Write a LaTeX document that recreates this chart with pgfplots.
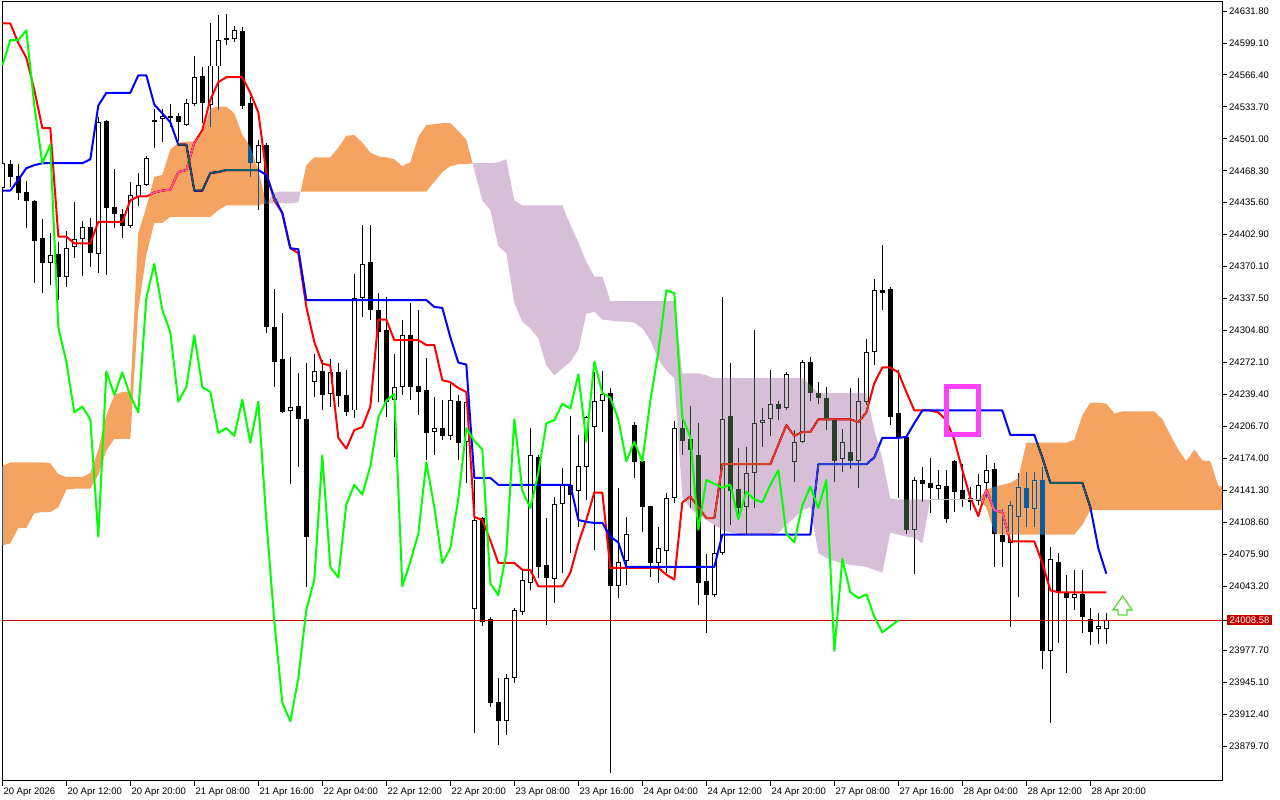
\documentclass[border=0pt]{standalone}
\usepackage{fontspec}
\setmainfont{Liberation Sans}
\usepackage{pgfplots}
\pgfplotsset{compat=1.18}
\definecolor{cloudOinv}{RGB}{11,91,159}
\definecolor{cloudPinv}{RGB}{39,64,39}
\definecolor{bidred}{RGB}{200,0,0}
\definecolor{boxmag}{RGB}{255,64,255}
\definecolor{chik}{RGB}{0,255,0}
\definecolor{arrowgreen}{RGB}{90,220,60}
\begin{document}
\begin{tikzpicture}[x=1bp,y=1bp]
\fill[white] (-2,-19) rectangle (1278,781);
\useasboundingbox (-2,-19) rectangle (1278,781);
\begin{axis}[
  at={(0,0)}, anchor=south west,
  scale only axis, width=1220bp, height=779bp,
  xmin=-0.04, xmax=152.46, ymin=23843.9, ymax=24641.0,
  axis line style={black, line width=1bp},
  axis background/.style={fill=white},
  unbounded coords=jump,
  tick align=outside,
  major tick length=5bp,
  tick style={black, line width=0.8bp},
  xtick pos=left, ytick pos=right, yticklabel pos=right,
  xtick={0,8,...,136},
  xticklabels={20 Apr 2026,20 Apr 12:00,20 Apr 20:00,21 Apr 08:00,21 Apr 16:00,22 Apr 04:00,22 Apr 12:00,22 Apr 20:00,23 Apr 08:00,23 Apr 16:00,24 Apr 04:00,24 Apr 12:00,24 Apr 20:00,27 Apr 08:00,27 Apr 16:00,28 Apr 04:00,28 Apr 12:00,28 Apr 20:00},
  ytick={24631.8,24599.1,24566.4,24533.7,24501.0,24468.3,24435.6,24402.9,24370.2,24337.5,24304.8,24272.1,24239.4,24206.7,24174.0,24141.3,24108.6,24075.9,24043.2,23977.8,23945.1,23912.4,23879.7},
  yticklabels={24631.80,24599.10,24566.40,24533.70,24501.00,24468.30,24435.60,24402.90,24370.10,24337.50,24304.80,24272.10,24239.40,24206.70,24174.00,24141.30,24108.60,24075.90,24043.20,23977.70,23945.10,23912.40,23879.70},
  ticklabel style={font=\fontsize{9.5bp}{11bp}\selectfont, inner sep=0pt, text=black},
  xticklabel style={anchor=north west, xshift=1bp, yshift=-2bp},
  yticklabel style={anchor=west, xshift=2bp},
  extra y ticks={24008.58}, extra y tick labels={24008.58},
  extra y tick style={yticklabel style={fill=bidred, text=white, inner xsep=2.5bp, inner ysep=1.5bp, xshift=-2bp}},
]
% wicks
\addplot[black, line width=1bp] coordinates {(0,24479)(0,24443)(0,nan) (1,24479)(1,24452)(1,nan) (2,24475)(2,24438)(2,nan) (3,24458)(3,24410)(3,nan) (4,24438)(4,24353)(4,nan) (5,24419)(5,24343)(5,nan) (6,24405)(6,24351)(6,nan) (7,24395)(7,24336)(7,nan) (8,24407)(8,24349)(8,nan) (9,24436)(9,24379)(9,nan) (10,24417)(10,24361)(10,nan) (11,24420)(11,24370)(11,nan) (12,24523)(12,24364)(12,nan) (13,24520)(13,24362)(13,nan) (14,24470)(14,24410)(14,nan) (15,24429)(15,24399)(15,nan) (16,24457)(16,24410)(16,nan) (17,24466)(17,24432)(17,nan) (18,24483)(18,24453)(18,nan) (19,24532)(19,24492)(19,nan) (20,24532)(20,24498)(20,nan) (21,24537)(21,24513)(21,nan) (22,24527)(22,24499)(22,nan) (23,24542)(23,24514)(23,nan) (24,24586)(24,24535)(24,nan) (25,24574)(25,24517)(25,nan) (26,24620)(26,24513)(26,nan) (27,24628)(27,24530)(27,nan) (28,24629)(28,24597)(28,nan) (29,24616)(29,24600)(29,nan) (30,24615)(30,24532)(30,nan) (31,24544)(31,24462)(31,nan) (32,24500)(32,24428)(32,nan) (33,24497)(33,24302)(33,nan) (34,24347)(34,24247)(34,nan) (35,24323)(35,24220)(35,nan) (36,24278)(36,24148)(36,nan) (37,24261)(37,24165)(37,nan) (38,24272)(38,24042)(38,nan) (39,24281)(39,24237)(39,nan) (40,24275)(40,24223)(40,nan) (41,24276)(41,24227)(41,nan) (42,24272)(42,24227)(42,nan) (43,24264)(43,24217)(43,nan) (44,24363)(44,24215)(44,nan) (45,24413)(45,24319)(45,nan) (46,24413)(46,24316)(46,nan) (47,24343)(47,24232)(47,nan) (48,24339)(48,24216)(48,nan) (49,24281)(49,24175)(49,nan) (50,24316)(50,24239)(50,nan) (51,24333)(51,24234)(51,nan) (52,24326)(52,24218)(52,nan) (53,24277)(53,24172)(53,nan) (54,24237)(54,24177)(54,nan) (55,24234)(55,24193)(55,nan) (56,24252)(56,24193)(56,nan) (57,24239)(57,24172)(57,nan) (58,24234)(58,24149)(58,nan) (59,24152)(59,23893)(59,nan) (60,24114)(60,24002)(60,nan) (61,24012)(61,23920)(61,nan) (62,23949)(62,23881)(62,nan) (63,23953)(63,23891)(63,nan) (64,24021)(64,23944)(64,nan) (65,24061)(65,24014)(65,nan) (66,24205)(66,24039)(66,nan) (67,24177)(67,24052)(67,nan) (68,24113)(68,24004)(68,nan) (69,24134)(69,24026)(69,nan) (70,24164)(70,24057)(70,nan) (71,24217)(71,24077)(71,nan) (72,24198)(72,24104)(72,nan) (73,24217)(73,24131)(73,nan) (74,24262)(74,24080)(74,nan) (75,24263)(75,24201)(75,nan) (76,24246)(76,23852)(76,nan) (77,24144)(77,24031)(77,nan) (78,24114)(78,24044)(78,nan) (79,24211)(79,24154)(79,nan) (80,24171)(80,24099)(80,nan) (81,24125)(81,24053)(81,nan) (82,24104)(82,24046)(82,nan) (83,24139)(83,24057)(83,nan) (84,24212)(84,24128)(84,nan) (85,24215)(85,24177)(85,nan) (86,24228)(86,24123)(86,nan) (87,24210)(87,24024)(87,nan) (88,24076)(88,23995)(88,nan) (89,24106)(89,24032)(89,nan) (90,24339)(90,24075)(90,nan) (91,24272)(91,24106)(91,nan) (92,24185)(92,24111)(92,nan) (93,24186)(93,24097)(93,nan) (94,24305)(94,24123)(94,nan) (95,24226)(95,24186)(95,nan) (96,24264)(96,24197)(96,nan) (97,24233)(97,24213)(97,nan) (98,24262)(98,24223)(98,nan) (99,24203)(99,24150)(99,nan) (100,24275)(100,24190)(100,nan) (101,24278)(101,24233)(101,nan) (102,24252)(102,24230)(102,nan) (103,24247)(103,24203)(103,nan) (104,24215)(104,24150)(104,nan) (105,24204)(105,24160)(105,nan) (106,24246)(106,24163)(106,nan) (107,24256)(107,24144)(107,nan) (108,24296)(108,24229)(108,nan) (109,24358)(109,24270)(109,nan) (110,24392)(110,24326)(110,nan) (111,24349)(111,24208)(111,nan) (112,24264)(112,24133)(112,nan) (113,24198)(113,24097)(113,nan) (114,24155)(114,24056)(114,nan) (115,24165)(115,24129)(115,nan) (116,24174)(116,24118)(116,nan) (117,24162)(117,24131)(117,nan) (118,24162)(118,24108)(118,nan) (119,24172)(119,24119)(119,nan) (120,24168)(120,24124)(120,nan) (121,24145)(121,24121)(121,nan) (122,24158)(122,24126)(122,nan) (123,24177)(123,24133)(123,nan) (124,24169)(124,24063)(124,nan) (125,24122)(125,24063)(125,nan) (126,24130)(126,24001)(126,nan) (127,24159)(127,24032)(127,nan) (128,24160)(128,24104)(128,nan) (129,24160)(129,24104)(129,nan) (130,24165)(130,23958)(130,nan) (131,24083)(131,23903)(131,nan) (132,24077)(132,23985)(132,nan) (133,24055)(133,23954)(133,nan) (134,24060)(134,24019)(134,nan) (135,24060)(135,23995)(135,nan) (136,24021)(136,23983)(136,nan) (137,24016)(137,23984)(137,nan) (138,24016)(138,23984)(138,nan)};
% bodies (open to close)
\addplot[black, line width=5bp] coordinates {(0,24451)(0,24476)(0,nan) (1,24475)(1,24462)(1,nan) (2,24463)(2,24446)(2,nan) (3,24447)(3,24437)(3,nan) (4,24437)(4,24396)(4,nan) (5,24399)(5,24374)(5,nan) (6,24374)(6,24382)(6,nan) (7,24383)(7,24360)(7,nan) (8,24360)(8,24389)(8,nan) (9,24390)(9,24398)(9,nan) (10,24398)(10,24411)(10,nan) (11,24411)(11,24384)(11,nan) (12,24383)(12,24518)(12,nan) (13,24519)(13,24430)(13,nan) (14,24431)(14,24424)(14,nan) (15,24424)(15,24412)(15,nan) (16,24412)(16,24443)(16,nan) (17,24441)(17,24454)(17,nan) (18,24454)(18,24481)(18,nan) (19,24520)(19,24518)(19,nan) (20,24521)(20,24524)(20,nan) (21,24524)(21,24522)(21,nan) (22,24524)(22,24518)(22,nan) (23,24515)(23,24538)(23,nan) (24,24537)(24,24564)(24,nan) (25,24565)(25,24538)(25,nan) (26,24536)(26,24576)(26,nan) (27,24575)(27,24602)(27,nan) (28,24604)(28,24602)(28,nan) (29,24603)(29,24612)(29,nan) (30,24611)(30,24535)(30,nan) (31,24538)(31,24476)(31,nan) (32,24476)(32,24495)(32,nan) (33,24495)(33,24308)(33,nan) (34,24308)(34,24273)(34,nan) (35,24276)(35,24221)(35,nan) (36,24222)(36,24227)(36,nan) (37,24228)(37,24214)(37,nan) (38,24214)(38,24094)(38,nan) (39,24252)(39,24263)(39,nan) (40,24263)(40,24239)(40,nan) (41,24240)(41,24262)(41,nan) (42,24262)(42,24238)(42,nan) (43,24239)(43,24221)(43,nan) (44,24223)(44,24338)(44,nan) (45,24338)(45,24373)(45,nan) (46,24375)(46,24326)(46,nan) (47,24326)(47,24303)(47,nan) (48,24305)(48,24232)(48,nan) (49,24234)(49,24247)(49,nan) (50,24247)(50,24300)(50,nan) (51,24300)(51,24247)(51,nan) (52,24248)(52,24242)(52,nan) (53,24244)(53,24200)(53,nan) (54,24201)(54,24205)(54,nan) (55,24205)(55,24197)(55,nan) (56,24197)(56,24234)(56,nan) (57,24233)(57,24190)(57,nan) (58,24191)(58,24232)(58,nan) (59,24020)(59,24111)(59,nan) (60,24113)(60,24007)(60,nan) (61,24010)(61,23924)(61,nan) (62,23925)(62,23905)(62,nan) (63,23905)(63,23949)(63,nan) (64,23949)(64,24019)(64,nan) (65,24017)(65,24050)(65,nan) (66,24047)(66,24177)(66,nan) (67,24175)(67,24063)(67,nan) (68,24065)(68,24052)(68,nan) (69,24051)(69,24127)(69,nan) (70,24127)(70,24147)(70,nan) (71,24147)(71,24137)(71,nan) (72,24141)(72,24166)(72,nan) (73,24165)(73,24216)(73,nan) (74,24206)(74,24233)(74,nan) (75,24233)(75,24240)(75,nan) (76,24241)(76,24043)(76,nan) (77,24043)(77,24068)(77,nan) (78,24069)(78,24097)(78,nan) (79,24208)(79,24170)(79,nan) (80,24171)(80,24124)(80,nan) (81,24125)(81,24067)(81,nan) (82,24067)(82,24082)(82,nan) (83,24079)(83,24133)(83,nan) (84,24133)(84,24205)(84,nan) (85,24205)(85,24192)(85,nan) (86,24194)(86,24183)(86,nan) (87,24177)(87,24046)(87,nan) (88,24049)(88,24034)(88,nan) (89,24034)(89,24077)(89,nan) (90,24077)(90,24214)(90,nan) (91,24217)(91,24141)(91,nan) (92,24143)(92,24123)(92,nan) (93,24124)(93,24159)(93,nan) (94,24159)(94,24210)(94,nan) (95,24210)(95,24213)(95,nan) (96,24214)(96,24230)(96,nan) (97,24230)(97,24225)(97,nan) (98,24226)(98,24260)(98,nan) (99,24170)(99,24191)(99,nan) (100,24191)(100,24273)(100,nan) (101,24273)(101,24241)(101,nan) (102,24241)(102,24236)(102,nan) (103,24236)(103,24214)(103,nan) (104,24214)(104,24171)(104,nan) (105,24173)(105,24191)(105,nan) (106,24181)(106,24171)(106,nan) (107,24171)(107,24233)(107,nan) (108,24232)(108,24283)(108,nan) (109,24283)(109,24346)(109,nan) (110,24346)(110,24343)(110,nan) (111,24347)(111,24216)(111,nan) (112,24220)(112,24196)(112,nan) (113,24196)(113,24101)(113,nan) (114,24101)(114,24152)(114,nan) (115,24152)(115,24148)(115,nan) (116,24149)(116,24144)(116,nan) (117,24143)(117,24147)(117,nan) (118,24146)(118,24112)(118,nan) (119,24171)(119,24140)(119,nan) (120,24142)(120,24132)(120,nan) (121,24133)(121,24129)(121,nan) (122,24130)(122,24147)(122,nan) (123,24149)(123,24162)(123,nan) (124,24163)(124,24097)(124,nan) (125,24096)(125,24088)(125,nan) (126,24087)(126,24126)(126,nan) (127,24114)(127,24145)(127,nan) (128,24144)(128,24123)(128,nan) (129,24122)(129,24152)(129,nan) (130,24152)(130,23977)(130,nan) (131,23977)(131,24071)(131,nan) (132,24068)(132,24037)(132,nan) (133,24036)(133,24031)(133,nan) (134,24031)(134,24035)(134,nan) (135,24035)(135,24012)(135,nan) (136,24010)(136,23996)(136,nan) (137,23999)(137,24002)(137,nan) (138,23999)(138,24008.58)(138,nan)};
% hollow interiors of rising candles
\addplot[white, line width=3bp] coordinates {(0,24452)(0,24475)(0,nan) (6,24375)(6,24381)(6,nan) (8,24361)(8,24388)(8,nan) (9,24391)(9,24397)(9,nan) (10,24399)(10,24410)(10,nan) (12,24384)(12,24517)(12,nan) (16,24413)(16,24442)(16,nan) (17,24442)(17,24453)(17,nan) (18,24455)(18,24480)(18,nan) (20,24522)(20,24523)(20,nan) (23,24516)(23,24537)(23,nan) (24,24538)(24,24563)(24,nan) (26,24537)(26,24575)(26,nan) (27,24576)(27,24601)(27,nan) (29,24604)(29,24611)(29,nan) (32,24477)(32,24494)(32,nan) (36,24223)(36,24226)(36,nan) (39,24253)(39,24262)(39,nan) (41,24241)(41,24261)(41,nan) (44,24224)(44,24337)(44,nan) (45,24339)(45,24372)(45,nan) (49,24235)(49,24246)(49,nan) (50,24248)(50,24299)(50,nan) (54,24202)(54,24204)(54,nan) (56,24198)(56,24233)(56,nan) (58,24192)(58,24231)(58,nan) (59,24021)(59,24110)(59,nan) (63,23906)(63,23948)(63,nan) (64,23950)(64,24018)(64,nan) (65,24018)(65,24049)(65,nan) (66,24048)(66,24176)(66,nan) (69,24052)(69,24126)(69,nan) (70,24128)(70,24146)(70,nan) (72,24142)(72,24165)(72,nan) (73,24166)(73,24215)(73,nan) (74,24207)(74,24232)(74,nan) (75,24234)(75,24239)(75,nan) (77,24044)(77,24067)(77,nan) (78,24070)(78,24096)(78,nan) (82,24068)(82,24081)(82,nan) (83,24080)(83,24132)(83,nan) (84,24134)(84,24204)(84,nan) (89,24035)(89,24076)(89,nan) (90,24078)(90,24213)(90,nan) (93,24125)(93,24158)(93,nan) (94,24160)(94,24209)(94,nan) (95,24211)(95,24212)(95,nan) (96,24215)(96,24229)(96,nan) (98,24227)(98,24259)(98,nan) (99,24171)(99,24190)(99,nan) (100,24192)(100,24272)(100,nan) (105,24174)(105,24190)(105,nan) (107,24172)(107,24232)(107,nan) (108,24233)(108,24282)(108,nan) (109,24284)(109,24345)(109,nan) (114,24102)(114,24151)(114,nan) (117,24144)(117,24146)(117,nan) (122,24131)(122,24146)(122,nan) (123,24150)(123,24161)(123,nan) (126,24088)(126,24125)(126,nan) (127,24115)(127,24144)(127,nan) (129,24123)(129,24151)(129,nan) (131,23978)(131,24070)(131,nan) (134,24032)(134,24034)(134,nan) (137,24000)(137,24001)(137,nan) (138,24000)(138,24007.58)(138,nan)};
% Tenkan-sen
\addplot[red, line width=2bp, line join=round] coordinates {(0,24619)(1,24619)(2,24599)(3,24584)(4,24551)(5,24512)(6,24512)(7,24401)(8,24401)(9,24394)(10,24394)(11,24394)(12,24416)(13,24416)(14,24416)(15,24416)(16,24438)(17,24442)(18,24442)(19,24446)(20,24448)(21,24449)(22,24467)(23,24469)(24,24497)(25,24510)(26,24541)(27,24559)(28,24564)(29,24564)(30,24564)(31,24548)(32,24528)(33,24466)(34,24438)(35,24425)(36,24389)(37,24384)(38,24329)(39,24293)(40,24271)(41,24269)(42,24195)(43,24184)(44,24203)(45,24206)(46,24227)(47,24316)(48,24316)(49,24295)(50,24295)(51,24295)(52,24295)(53,24290)(54,24290)(55,24254)(56,24252)(57,24246)(58,24242)(59,24114)(60,24111)(61,24090)(62,24067)(63,24067)(64,24067)(65,24060)(66,24060)(67,24043)(68,24043)(69,24043)(70,24043)(71,24057)(72,24087)(73,24111)(74,24139)(75,24139)(76,24062)(77,24062)(78,24062)(79,24062)(80,24062)(81,24062)(82,24062)(83,24055)(84,24050)(85,24129)(86,24135)(87,24124)(88,24113)(89,24113)(90,24168)(91,24168)(92,24168)(93,24168)(94,24168)(95,24168)(96,24168)(97,24188)(98,24208)(99,24197)(100,24201)(101,24201)(102,24214)(103,24214)(104,24214)(105,24214)(106,24214)(107,24211)(108,24221)(109,24251)(110,24267)(111,24267)(112,24262)(113,24242)(114,24223)(115,24223)(116,24223)(117,24221)(118,24213)(119,24193)(120,24162)(121,24134)(122,24115)(123,24142)(124,24121)(125,24119)(126,24089)(127,24089)(128,24089)(129,24089)(130,24067)(131,24039)(132,24037)(133,24037)(134,24037)(135,24037)(136,24037)(137,24037)(138,24037)};
% Kijun-sen
\addplot[blue, line width=2bp, line join=round] coordinates {(0,24448)(1,24448)(2,24459)(3,24471)(4,24474)(5,24476)(10,24476)(11,24480)(12,24535)(13,24548)(16,24548)(17,24566)(18,24566)(19,24536)(20,24527)(21,24518)(22,24495)(23,24495)(24,24448)(25,24448)(26,24466)(27,24467)(28,24469)(32,24469)(33,24464)(34,24441)(35,24425)(36,24389)(37,24388)(38,24336)(53,24336)(54,24329)(55,24328)(56,24298)(57,24272)(58,24270)(59,24154)(61,24154)(62,24147)(71,24147)(72,24111)(73,24109)(74,24108)(75,24108)(76,24094)(77,24088)(78,24063)(89,24063)(90,24096)(101,24096)(102,24168)(108,24168)(109,24175)(110,24195)(112,24195)(113,24196)(114,24210)(115,24223)(125,24223)(126,24198)(129,24198)(130,24175)(131,24149)(135,24149)(136,24124)(137,24082)(138,24056)};
% bid line
\addplot[bidred, line width=1bp] coordinates {(-1,24008.58)(160,24008.58)};
% Kumo (Senkou span A above B: sandy brown; B above A: thistle), drawn like MT5 (XOR-like)
\addplot[fill=cloudOinv, draw=none, blend mode=difference] coordinates {(-1,24166)(0,24166)(1,24170)(2,24170)(3,24170)(4,24170)(5,24170)(6,24169)(7,24158)(8,24155)(9,24155)(10,24155)(11,24159)(12,24183)(13,24218)(14,24239)(15,24242)(16,24242)(17,24405)(18,24431)(19,24462)(20,24464)(21,24490)(22,24497)(23,24498)(24,24498)(25,24507)(26,24532)(27,24534)(28,24534)(29,24527)(30,24505)(31,24493)(32,24469)(32.97,24435)(32,24433)(28,24433)(27,24428)(26,24421)(21,24421)(20,24415)(19,24415)(18,24382)(17,24326)(16,24194)(14,24194)(13,24182)(12,24157)(11,24143)(9,24143)(8,24142)(7,24124)(6,24119)(5,24119)(4,24118)(3,24103)(2,24103)(1,24087)(0,24085)(-1,24085)} -- cycle;
\addplot[fill=cloudPinv, draw=none, blend mode=difference] coordinates {(32.97,24435)(33,24435)(34,24446)(35,24447)(37,24447)(37.29,24447)(37,24436)(36,24435)(35,24435)(34,24436)(33,24434)} -- cycle;
\addplot[fill=cloudOinv, draw=none, blend mode=difference] coordinates {(37.29,24447)(38,24474)(39,24482)(40,24482)(41,24482)(42,24492)(43,24504)(44,24505)(45,24497)(46,24487)(47,24483)(48,24482)(49,24480)(50,24473)(51,24477)(52,24503)(53,24515)(54,24516)(55,24517)(56,24517)(57,24509)(58,24500)(58.78,24476)(58,24475)(57,24475)(56,24473)(55,24467)(54,24457)(53,24447)(38,24447)} -- cycle;
\addplot[fill=cloudPinv, draw=none, blend mode=difference] coordinates {(58.78,24476)(59,24476)(61,24476)(62,24477)(63,24480)(64,24438)(65,24433)(70,24433)(71,24413)(72,24395)(73,24375)(74,24360)(75,24360)(76,24335)(84,24335)(85,24261)(87,24261)(88,24259)(89,24256)(100,24256)(101,24249)(102,24241)(108,24241)(109,24203)(110,24174)(111,24133)(112,24132)(116,24132)(115,24087)(114,24093)(113,24094)(112,24096)(111,24098)(110,24057)(109,24060)(108,24063)(107,24064)(106,24065)(105,24067)(104,24069)(103,24072)(102,24077)(101,24124)(100,24121)(99,24113)(98,24106)(97,24098)(96,24096)(93,24096)(92,24097)(91,24098)(90,24101)(89,24106)(88,24111)(87,24116)(86,24123)(85,24134)(84,24256)(83,24264)(82,24275)(81,24295)(80,24307)(79,24313)(78,24314)(77,24314)(76,24315)(75,24316)(74,24324)(73,24322)(72,24285)(71,24273)(70,24266)(69,24259)(68,24269)(67,24297)(66,24307)(65,24314)(64,24333)(63,24384)(62,24391)(61,24428)(60,24438)(59,24469)} -- cycle;
\addplot[fill=cloudOinv, draw=none, blend mode=difference] coordinates {(122,24132)(123,24142)(124,24145)(125,24147)(126,24149)(127,24154)(128,24190)(133,24190)(134,24193)(135,24218)(136,24231)(137,24231)(138,24230)(139,24220)(140,24222)(144,24222)(145,24214)(146,24198)(147,24183)(148,24171)(149,24183)(150,24172)(151,24171)(152,24146)(153,24144)(153,24121)(136,24121)(135,24106)(134,24096)(125,24096)(124,24098)(123,24124)} -- cycle;
\addplot[color={rgb,255:red,200;green,200;blue,200}, line width=1bp] coordinates {(116,24132)(122,24132)};
% Chikou span
\addplot[chik, line width=2bp, line join=round] coordinates {(0,24576)(1,24602)(2,24602)(3,24612)(4,24535)(5,24476)(6,24495)(7,24308)(8,24273)(9,24221)(10,24227)(11,24214)(12,24094)(13,24263)(14,24239)(15,24262)(16,24238)(17,24221)(18,24338)(19,24373)(20,24326)(21,24303)(22,24232)(23,24247)(24,24300)(25,24247)(26,24242)(27,24200)(28,24205)(29,24197)(30,24234)(31,24190)(32,24232)(33,24111)(34,24007)(35,23924)(36,23905)(37,23949)(38,24019)(39,24050)(40,24177)(41,24063)(42,24052)(43,24127)(44,24147)(45,24137)(46,24166)(47,24216)(48,24233)(49,24240)(50,24043)(51,24068)(52,24097)(53,24170)(54,24124)(55,24067)(56,24082)(57,24133)(58,24205)(59,24192)(60,24183)(61,24046)(62,24034)(63,24077)(64,24214)(65,24141)(66,24123)(67,24159)(68,24210)(69,24213)(70,24230)(71,24225)(72,24260)(73,24191)(74,24273)(75,24241)(76,24236)(77,24214)(78,24171)(79,24191)(80,24171)(81,24233)(82,24283)(83,24346)(84,24343)(85,24216)(86,24196)(87,24101)(88,24152)(89,24148)(90,24144)(91,24147)(92,24112)(93,24140)(94,24132)(95,24129)(96,24147)(97,24162)(98,24097)(99,24088)(100,24126)(101,24145)(102,24123)(103,24152)(104,23977)(105,24071)(106,24037)(107,24031)(108,24035)(109,24012)(110,23996)(111,24002)(112,24008.58)};
% objects on the chart
\addplot[boxmag, line width=4.5bp] coordinates {(118.03,24198.5)(122.03,24198.5)(122.03,24247.6)(118.03,24247.6)} -- cycle;
\addplot[draw=arrowgreen, fill=white, line width=1.3bp, line join=miter] coordinates {(139.46,24013.8)(139.46,24019.0)(138.84,24019.0)(140.03,24033.2)(141.21,24019.0)(140.59,24019.0)(140.59,24013.8)} -- cycle;
\end{axis}
\end{tikzpicture}
\end{document}
